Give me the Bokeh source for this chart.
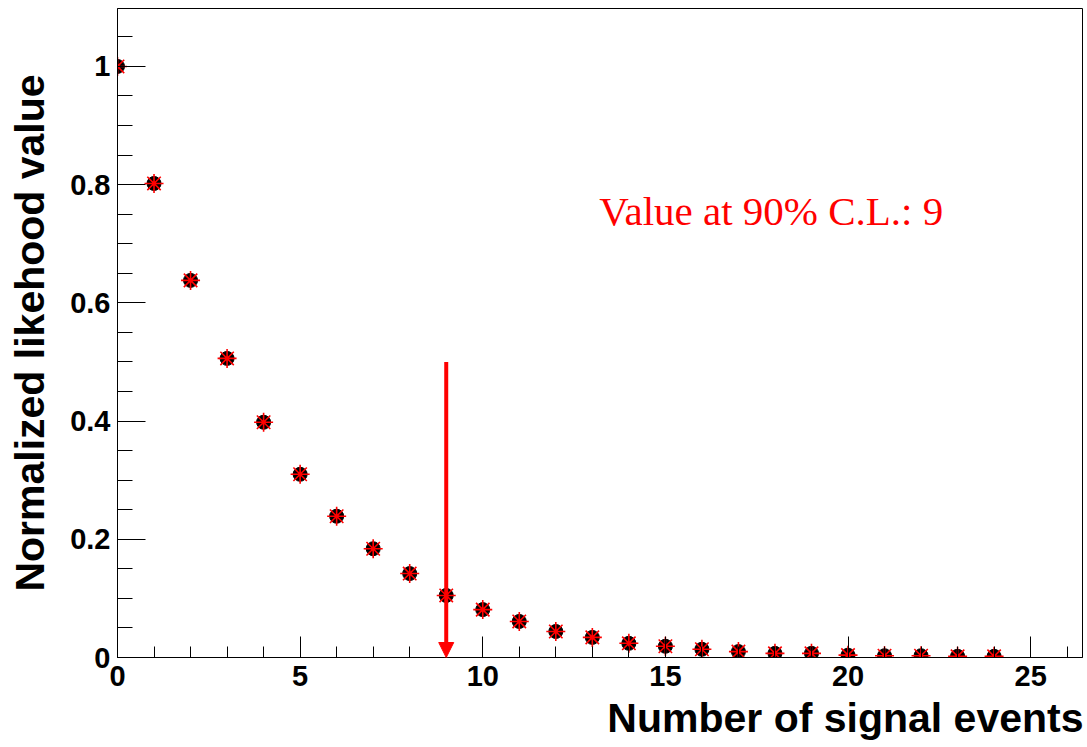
from bokeh.plotting import figure
from bokeh.models import (ColumnDataSource, Range1d, FixedTicker, Arrow, NormalHead, Label, Title)
from bokeh.embed import file_html
from bokeh.resources import INLINE

# ---- data ----
n_signal = list(range(25))
likelihood = [1.0, 0.802, 0.638, 0.506, 0.398, 0.310, 0.239, 0.184, 0.142, 0.105,
              0.081, 0.061, 0.044, 0.034, 0.024, 0.019, 0.014, 0.010, 0.007, 0.007,
              0.004, 0.003, 0.003, 0.002, 0.002]
cl_value = 9
arrow_top = 0.5
x_major = [0, 5, 10, 15, 20, 25]
y_major = [0, 0.2, 0.4, 0.6, 0.8, 1.0]
x_minor = list(range(27))
y_minor = [i * 0.05 for i in range(22)]
x_title = "Number of signal events"
y_title = "Normalized likehood value"
annotation = "Value at 90% C.L.: 9"

W, H = 1087, 747
ML, MR, MT, MB = 117, 5, 8, 90

p = figure(width=W, height=H, output_backend="svg", toolbar_location=None,
           x_range=Range1d(0, 26.42), y_range=Range1d(0, 1.098),
           min_border_left=ML, min_border_right=MR, min_border_top=MT, min_border_bottom=MB)
p.background_fill_color = "white"
p.border_fill_color = "white"
p.outline_line_color = "black"
p.outline_line_width = 1
p.xgrid.visible = False
p.ygrid.visible = False

for ax in (p.xaxis[0], p.yaxis[0]):
    ax.axis_line_color = "black"
    ax.major_tick_line_color = "black"
    ax.minor_tick_line_color = "black"
    ax.major_tick_out = 0
    ax.minor_tick_out = 0
    ax.major_label_text_font = "Liberation Sans"
    ax.major_label_text_font_style = "bold"
    ax.major_label_text_font_size = "29px"
    ax.major_label_text_color = "black"

p.xaxis.ticker = FixedTicker(ticks=x_major, minor_ticks=x_minor)
p.yaxis.ticker = FixedTicker(ticks=y_major, minor_ticks=y_minor)
p.xaxis.major_tick_in = 21
p.xaxis.minor_tick_in = 11
p.yaxis.major_tick_in = 28
p.yaxis.minor_tick_in = 15
p.xaxis.major_label_standoff = 8
p.yaxis.major_label_standoff = 7
p.yaxis.major_label_overrides = {0: "0", 1: "1"}
p.xaxis.major_label_overrides = {0: "0"}

p.yaxis.axis_label = y_title
p.yaxis.axis_label_text_font = "Liberation Sans"
p.yaxis.axis_label_text_font_style = "bold"
p.yaxis.axis_label_text_font_size = "41px"
p.yaxis.axis_label_text_color = "black"
p.yaxis.axis_label_standoff = 14

src = ColumnDataSource(dict(x=n_signal, y=likelihood))
p.scatter("x", "y", source=src, marker="circle", size=14, fill_color="black", line_color="black")
p.scatter("x", "y", source=src, marker="asterisk", size=19, line_color="red", line_width=1.6)
p.scatter("x", "y", source=src, marker="circle", size=3, fill_color="red", line_color="red")

p.add_layout(Arrow(end=NormalHead(size=15, fill_color="red", line_color="red"),
                   x_start=cl_value, y_start=arrow_top, x_end=cl_value, y_end=0,
                   line_color="red", line_width=4))

p.add_layout(Label(x=17.9, y=0.755, text=annotation, text_align="center", text_baseline="middle",
                   text_font="Liberation Serif", text_font_size="41px", text_color="red"))

xt = Title(text=x_title, align="right", text_font="Liberation Sans", text_font_style="bold",
           text_font_size="41px", text_color="black", standoff=8, offset=-1)
p.add_layout(xt, "below")

open("out.html", "w").write(file_html(p, INLINE))
